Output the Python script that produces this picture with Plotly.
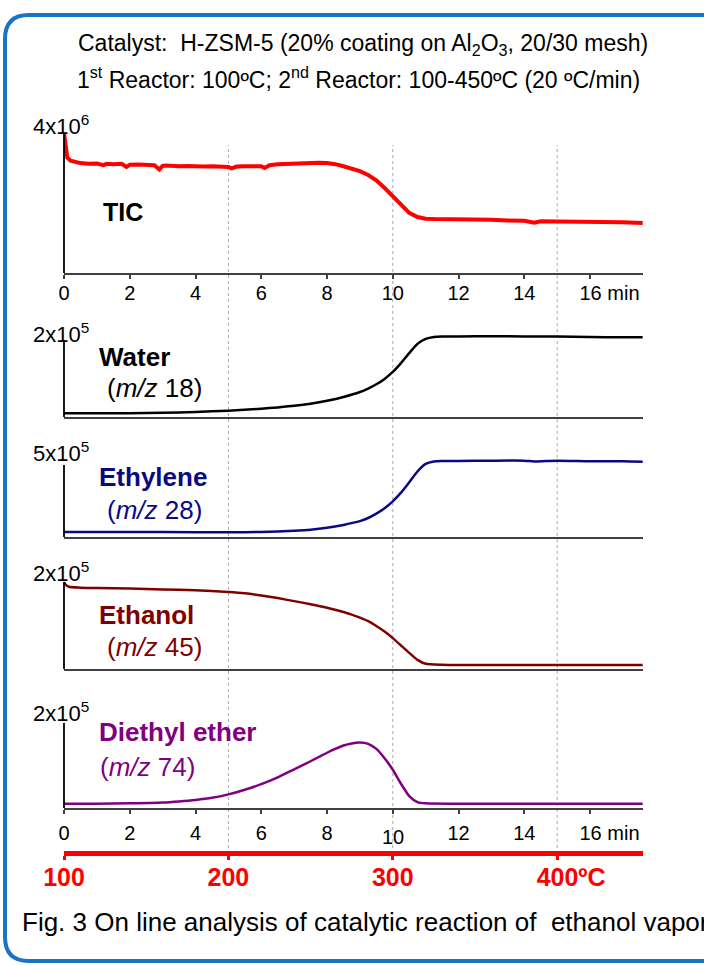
import plotly.graph_objects as go

W, H = 704, 965
FONT = "Liberation Sans"
NB = "\u00a0"

# ---------------- data (time in min) ----------------
tic_t = [0, 0.05, 0.1, 0.2, 0.35, 0.5, 0.75, 1.0, 1.2, 1.3, 1.5, 1.75, 1.9, 2.0, 2.25, 2.5,
         2.75, 2.9, 3.0, 3.1, 3.25, 3.5, 3.75, 4.0, 4.25, 4.5, 4.75, 5.0, 5.1, 5.25, 5.5,
         5.75, 6.0, 6.1, 6.25, 6.5, 6.75, 7.0, 7.25, 7.5, 7.75, 8.0, 8.25, 8.5, 8.75, 9.0,
         9.25, 9.5, 9.75, 10.0, 10.25, 10.5, 10.75, 11.0, 11.25, 11.5, 12.0, 12.5, 13.0,
         13.5, 14.0, 14.3, 14.5, 15.0, 15.5, 16.0, 16.5, 17.0, 17.6]
tic_v = [4.00, 3.60, 3.30, 3.21, 3.17, 3.14, 3.12, 3.13, 3.08, 3.12, 3.11, 3.12, 3.03, 3.09,
         3.10, 3.09, 3.08, 2.96, 3.06, 3.07, 3.06, 3.05, 3.06, 3.04, 3.04, 3.05, 3.04, 3.03,
         2.99, 3.04, 3.05, 3.06, 3.05, 3.00, 3.08, 3.11, 3.12, 3.14, 3.15, 3.16, 3.15, 3.14,
         3.11, 3.05, 2.98, 2.91, 2.80, 2.65, 2.43, 2.18, 1.93, 1.72, 1.60, 1.55, 1.54, 1.54,
         1.53, 1.52, 1.52, 1.50, 1.49, 1.44, 1.48, 1.47, 1.47, 1.45, 1.46, 1.45, 1.43]  # x10^6

water_t = [0, 1, 2, 3, 4, 5, 6, 6.5, 7, 7.5, 8, 8.5, 9, 9.25, 9.5, 9.75, 10, 10.25, 10.5,
           10.75, 11, 11.25, 11.5, 12, 13, 14, 15, 16, 17, 17.6]
water_v = [0.095, 0.095, 0.10, 0.11, 0.13, 0.165, 0.215, 0.25, 0.29, 0.345, 0.42, 0.52, 0.65,
           0.74, 0.85, 0.99, 1.17, 1.40, 1.66, 1.90, 2.03, 2.08, 2.09, 2.09, 2.10, 2.09,
           2.09, 2.08, 2.07, 2.07]  # x10^5

eth_t = [0, 2, 4, 5, 6, 7, 7.5, 8, 8.5, 9, 9.25, 9.5, 9.75, 10, 10.25, 10.5, 10.75, 11,
         11.25, 11.5, 12, 13, 14, 14.3, 15, 16, 17, 17.6]
eth_v = [0.35, 0.35, 0.33, 0.33, 0.35, 0.44, 0.51, 0.64, 0.84, 1.10, 1.32, 1.62, 2.00, 2.48,
         3.08, 3.80, 4.55, 5.08, 5.25, 5.28, 5.28, 5.30, 5.30, 5.24, 5.30, 5.26, 5.26, 5.23]  # x10^5

etoh_t = [0, 0.05, 0.15, 0.5, 1, 2, 3, 4, 5, 5.5, 6, 6.5, 7, 7.5, 8, 8.5, 8.75, 9, 9.25,
          9.5, 9.75, 10, 10.25, 10.5, 10.75, 11, 11.5, 12, 13, 14, 15, 16, 17, 17.6]
etoh_v = [2.00, 1.94, 1.89, 1.87, 1.86, 1.85, 1.83, 1.81, 1.77, 1.74, 1.69, 1.63, 1.56, 1.49,
          1.41, 1.31, 1.25, 1.18, 1.10, 0.99, 0.86, 0.71, 0.54, 0.37, 0.21, 0.12, 0.095,
          0.09, 0.09, 0.09, 0.09, 0.09, 0.09, 0.09]  # x10^5

dee_t = [0, 1, 2, 3, 3.5, 4, 4.5, 5, 5.5, 6, 6.5, 7, 7.5, 7.75, 8, 8.25, 8.5, 8.75, 9, 9.25,
         9.5, 9.75, 10, 10.25, 10.5, 10.75, 11, 12, 13, 14, 15, 16, 17, 17.6]
dee_v = [0.10, 0.10, 0.11, 0.13, 0.155, 0.19, 0.24, 0.32, 0.43, 0.56, 0.72, 0.91, 1.10, 1.20,
         1.30, 1.39, 1.47, 1.52, 1.54, 1.51, 1.39, 1.17, 0.90, 0.57, 0.28, 0.14, 0.11, 0.10,
         0.10, 0.10, 0.10, 0.10, 0.10, 0.10]  # x10^5

time_ticks = [0, 2, 4, 6, 8, 10, 12, 14, 16]
time_labels = ["0", "2", "4", "6", "8", "10", "12", "14", "16"]
time_unit = "min"
temp_ticks_min = [0, 5, 10, 15]
temp_labels = ["100", "200", "300", "400"]
temp_unit = "ºC"
grid_min = [5, 10, 15]

# ---------------- layout helpers ----------------
def yp(p):
    return 1 - p / H

def xp(p):
    return p / W

X_DOM = [xp(64), xp(643)]
X_RNG = [0, 17.61]

def time_ticktext(skip=None):
    out = []
    for k, s in zip(time_ticks, time_labels):
        if k == skip:
            out.append("")
        elif k == time_ticks[-1]:
            out.append(NB * 7 + s + NB + time_unit)
        else:
            out.append(s)
    return out

# name, t, v, color, width, shape, px_bottom, px_top, nominal, label, sub, lab_color, lab_y, sub_y, sub_x, exp_label, exp_y
panels = [
    ("TIC", tic_t, tic_v, "#ff0000", 4.0, "linear", 273, 133, 4.0,
     "TIC", None, "#000000", 212, None, None, "4x10<sup>6</sup>", 125),
    ("Water", water_t, water_v, "#000000", 2.5, "spline", 417, 340, 2.0,
     "Water", "(<i>m/z</i> 18)", "#000000", 357, 388, 105, "2x10<sup>5</sup>", 333),
    ("Ethylene", eth_t, eth_v, "#0a0a80", 2.5, "spline", 537, 465, 5.0,
     "Ethylene", "(<i>m/z</i> 28)", "#0a0a80", 477, 510, 105, "5x10<sup>5</sup>", 452),
    ("Ethanol", etoh_t, etoh_v, "#800000", 2.5, "spline", 669, 582, 2.0,
     "Ethanol", "(<i>m/z</i> 45)", "#800000", 615, 647, 105, "2x10<sup>5</sup>", 572),
    ("Diethyl ether", dee_t, dee_v, "#800080", 2.5, "spline", 808, 723, 2.0,
     "Diethyl ether", "(<i>m/z</i> 74)", "#800080", 732, 767, 98, "2x10<sup>5</sup>", 712),
]

fig = go.Figure()
annotations = []
shapes = []
HEAD = 14

for i, (name, t, v, col, lw, lshape, pb, pt, nom, lab, sub, lcol, ly, sy, sx, elab, ey) in enumerate(panels, start=1):
    sfx = "" if i == 1 else str(i)
    fig.add_trace(go.Scatter(x=t, y=v, mode="lines", name=name,
                             line=dict(color=col, width=lw, shape=lshape, smoothing=0.6),
                             xaxis="x" + sfx, yaxis="y" + sfx, hoverinfo="skip",
                             showlegend=False))
    top_px = pt - HEAD
    rng_top = nom * (pb - top_px) / (pb - pt)
    fig.update_layout(**{
        "yaxis" + sfx: dict(domain=[yp(pb), yp(top_px)], range=[0, rng_top], showline=False,
                            showticklabels=False, showgrid=False, zeroline=False,
                            ticks="", automargin=False, anchor="x" + sfx),
    })
    xcfg = dict(domain=X_DOM, range=X_RNG, anchor="y" + sfx, showgrid=False, zeroline=False,
                showline=True, linecolor="#404040", linewidth=1.5, automargin=False)
    if i in (1, 5):
        xcfg.update(ticks="outside", ticklen=4, tickwidth=1.5, tickcolor="#404040",
                    tickvals=time_ticks, ticktext=time_ticktext(10 if i == 5 else None),
                    ticklabelstandoff=-3 if i == 1 else 2,
                    tickfont=dict(family=FONT, size=20, color="#000000"))
    else:
        xcfg.update(ticks="", showticklabels=False)
    fig.update_layout(**{"xaxis" + sfx: xcfg})

    # y-axis line (up to the nominal value)
    shapes.append(dict(type="line", xref="x" + sfx + " domain", yref="y" + sfx,
                       x0=0, x1=0, y0=0, y1=nom, line=dict(color="#000000", width=1.8)))
    # exponent label
    annotations.append(dict(text=elab, xref="paper", yref="paper", x=xp(31), y=yp(ey),
                            xanchor="left", yanchor="middle", showarrow=False,
                            font=dict(family=FONT, size=22, color="#000000")))
    # series label
    annotations.append(dict(text="<b>" + lab + "</b>", xref="paper", yref="paper",
                            x=xp(101 if i == 1 else 97), y=yp(ly), xanchor="left",
                            yanchor="middle", showarrow=False,
                            font=dict(family=FONT, size=25 if i == 1 else 26, color=lcol)))
    if sub:
        annotations.append(dict(text=sub, xref="paper", yref="paper", x=xp(sx), y=yp(sy),
                                xanchor="left", yanchor="middle", showarrow=False,
                                font=dict(family=FONT, size=26, color=lcol)))

# the lowered "10" on the bottom time axis
annotations.append(dict(text=time_labels[time_ticks.index(10)], xref="x5", yref="paper",
                        x=10, y=yp(837), xanchor="center", yanchor="middle", showarrow=False,
                        font=dict(family=FONT, size=20, color="#000000")))

# temperature scale axis (red bar)
temp_text = []
for k, s in zip(temp_ticks_min, temp_labels):
    if k == temp_ticks_min[-1]:
        temp_text.append("<b>" + NB * 4 + s + temp_unit + "</b>")
    else:
        temp_text.append("<b>" + s + "</b>")
fig.add_trace(go.Scatter(x=[], y=[], xaxis="x6", yaxis="y6", showlegend=False,
                         hoverinfo="skip"))
fig.update_layout(
    yaxis6=dict(domain=[yp(851), yp(849)], range=[0, 1], visible=False, anchor="x6",
                automargin=False),
    xaxis6=dict(domain=X_DOM, range=X_RNG, anchor="y6", showline=True, linecolor="#ff0000",
                linewidth=5, showgrid=False, zeroline=False, ticks="outside", ticklen=4,
                tickwidth=2.5, tickcolor="#ff0000", tickvals=temp_ticks_min,
                ticktext=temp_text, ticklabelstandoff=-4, automargin=False,
                tickfont=dict(family=FONT, size=25, color="#ff0000")),
)

# dotted guide lines at 5, 10, 15 min
for g in grid_min:
    shapes.append(dict(type="line", xref="x", yref="paper", x0=g, x1=g, y0=yp(860),
                       y1=yp(145), layer="below",
                       line=dict(color="#a8a8a8", width=1, dash="dot")))

# titles and caption
annotations.append(dict(text="Catalyst:  H-ZSM-5 (20% coating on Al<sub>2</sub>O<sub>3</sub>, 20/30 mesh)",
                        xref="paper", yref="paper", x=xp(363), y=yp(45), xanchor="center",
                        yanchor="middle", showarrow=False,
                        font=dict(family=FONT, size=23, color="#000000")))
annotations.append(dict(text="1<sup>st</sup> Reactor: 100ºC; 2<sup>nd</sup> Reactor: 100-450ºC (20 ºC/min)",
                        xref="paper", yref="paper", x=xp(359), y=yp(78), xanchor="center",
                        yanchor="middle", showarrow=False,
                        font=dict(family=FONT, size=23, color="#000000")))
annotations.append(dict(text="Fig. 3 On line analysis of catalytic reaction of  ethanol vapor",
                        xref="paper", yref="paper", x=xp(20), y=yp(922), xanchor="left",
                        yanchor="middle", showarrow=False,
                        font=dict(family=FONT, size=26, color="#000000")))

# rounded blue frame (right side runs off the page)
L, T, R, B, r = 5, 15, 730, 961, 24
def P(x, y):
    return f"{xp(x):.5f},{yp(y):.5f}"
frame = (f"M {P(L, T + r)} Q {P(L, T)} {P(L + r, T)} L {P(R - r, T)} Q {P(R, T)} {P(R, T + r)} "
         f"L {P(R, B - r)} Q {P(R, B)} {P(R - r, B)} L {P(L + r, B)} Q {P(L, B)} {P(L, B - r)} Z")
shapes.append(dict(type="path", xref="paper", yref="paper", path=frame,
                   line=dict(color="#1a74c6", width=4), fillcolor="rgba(0,0,0,0)"))

fig.update_layout(width=W, height=H, margin=dict(l=0, r=0, t=0, b=0, pad=0, autoexpand=False),
                  paper_bgcolor="#ffffff", plot_bgcolor="rgba(0,0,0,0)",
                  showlegend=False, annotations=annotations, shapes=shapes,
                  font=dict(family=FONT, color="#000000"))

fig.write_html("out.html",
               post_script="document.body.style.margin='0px';document.body.style.overflow='hidden';",
               config={"displayModeBar": False})
